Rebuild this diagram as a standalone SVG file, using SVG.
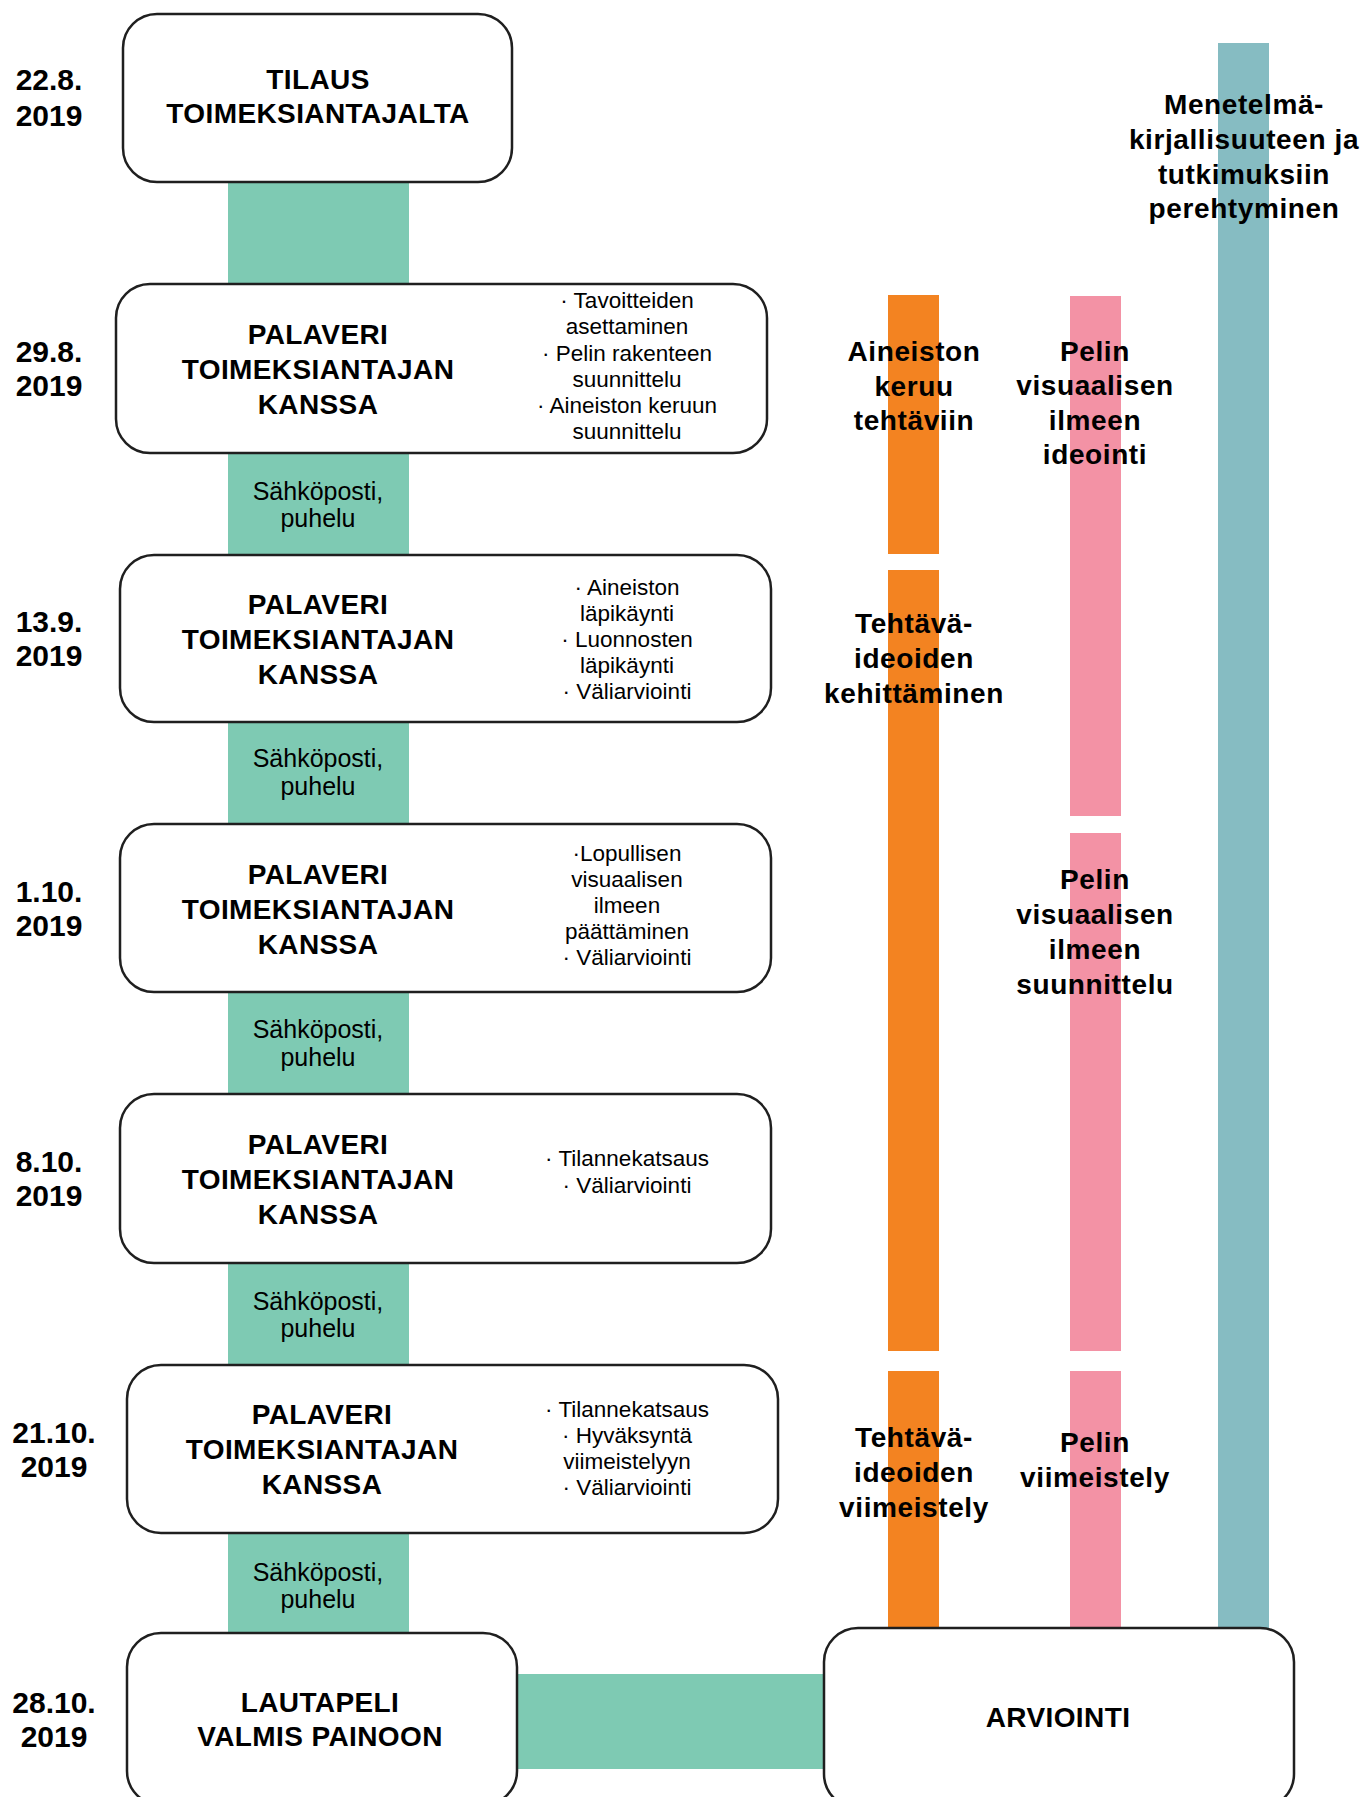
<svg xmlns="http://www.w3.org/2000/svg" width="1366" height="1797" viewBox="0 0 1366 1797">
<style>
.box{fill:#fff;stroke:#1f1f1f;stroke-width:2.5}
.t{font-family:"Liberation Sans",Arial,sans-serif;fill:#000}
.date{font-weight:bold;font-size:30px;text-anchor:middle}
.title{font-weight:bold;font-size:28px;text-anchor:middle;letter-spacing:0.4px}
.bul{font-size:22.5px;text-anchor:middle}
.conn{font-size:25px;text-anchor:middle}
.lab{font-weight:bold;font-size:28px;text-anchor:middle;letter-spacing:0.6px}
.teal{fill:#7ecab3}
.orange{fill:#f38321}
.pink{fill:#f392a5}
.blue{fill:#86bcc2}
</style>
<rect width="1366" height="1797" fill="#fff"/>

<g id="connectors">
  <rect class="teal" x="228" y="182" width="181" height="1452"/>
  <rect class="teal" x="517" y="1674" width="307" height="95"/>
  <g class="t conn">
    <text x="318" y="500">Sähköposti,</text><text x="318" y="527">puhelu</text>
    <text x="318" y="767">Sähköposti,</text><text x="318" y="795">puhelu</text>
    <text x="318" y="1038">Sähköposti,</text><text x="318" y="1066">puhelu</text>
    <text x="318" y="1310">Sähköposti,</text><text x="318" y="1337">puhelu</text>
    <text x="318" y="1581">Sähköposti,</text><text x="318" y="1608">puhelu</text>
  </g>
</g>

<g id="tracks">
  <rect class="orange" x="888" y="295" width="51" height="259"/>
  <rect class="orange" x="888" y="570" width="51" height="781"/>
  <rect class="orange" x="888" y="1371" width="51" height="260"/>
  <rect class="pink" x="1070" y="296" width="51" height="520"/>
  <rect class="pink" x="1070" y="833" width="51" height="518"/>
  <rect class="pink" x="1070" y="1371" width="51" height="260"/>
  <rect class="blue" x="1218" y="43" width="51" height="1588"/>
</g>

<g id="dates" class="t date">
  <text x="49" y="90">22.8.</text><text x="49" y="126">2019</text>
  <text x="49" y="362">29.8.</text><text x="49" y="396">2019</text>
  <text x="49" y="632">13.9.</text><text x="49" y="666">2019</text>
  <text x="49" y="902">1.10.</text><text x="49" y="936">2019</text>
  <text x="49" y="1172">8.10.</text><text x="49" y="1206">2019</text>
  <text x="54" y="1443">21.10.</text><text x="54" y="1477">2019</text>
  <text x="54" y="1713">28.10.</text><text x="54" y="1747">2019</text>
</g>

<g id="node-tilaus">
  <rect class="box" x="123" y="14" width="389" height="168" rx="34"/>
  <g class="t title"><text x="318" y="89">TILAUS</text><text x="318" y="123">TOIMEKSIANTAJALTA</text></g>
</g>

<g id="node-palaveri-1">
  <rect class="box" x="116" y="284" width="651" height="169" rx="34"/>
  <g class="t title"><text x="318" y="344">PALAVERI</text><text x="318" y="379">TOIMEKSIANTAJAN</text><text x="318" y="414">KANSSA</text></g>
  <g class="t bul">
    <text x="627" y="308">· Tavoitteiden</text><text x="627" y="334">asettaminen</text>
    <text x="627" y="361">· Pelin rakenteen</text><text x="627" y="387">suunnittelu</text>
    <text x="627" y="413">· Aineiston keruun</text><text x="627" y="439">suunnittelu</text>
  </g>
</g>

<g id="node-palaveri-2">
  <rect class="box" x="120" y="555" width="651" height="167" rx="34"/>
  <g class="t title"><text x="318" y="614">PALAVERI</text><text x="318" y="649">TOIMEKSIANTAJAN</text><text x="318" y="684">KANSSA</text></g>
  <g class="t bul">
    <text x="627" y="595">· Aineiston</text><text x="627" y="621">läpikäynti</text>
    <text x="627" y="647">· Luonnosten</text><text x="627" y="673">läpikäynti</text>
    <text x="627" y="699">· Väliarviointi</text>
  </g>
</g>

<g id="node-palaveri-3">
  <rect class="box" x="120" y="824" width="651" height="168" rx="34"/>
  <g class="t title"><text x="318" y="884">PALAVERI</text><text x="318" y="919">TOIMEKSIANTAJAN</text><text x="318" y="954">KANSSA</text></g>
  <g class="t bul">
    <text x="627" y="861">·Lopullisen</text><text x="627" y="887">visuaalisen</text>
    <text x="627" y="913">ilmeen</text><text x="627" y="939">päättäminen</text>
    <text x="627" y="965">· Väliarviointi</text>
  </g>
</g>

<g id="node-palaveri-4">
  <rect class="box" x="120" y="1094" width="651" height="169" rx="34"/>
  <g class="t title"><text x="318" y="1154">PALAVERI</text><text x="318" y="1189">TOIMEKSIANTAJAN</text><text x="318" y="1224">KANSSA</text></g>
  <g class="t bul">
    <text x="627" y="1166">· Tilannekatsaus</text><text x="627" y="1193">· Väliarviointi</text>
  </g>
</g>

<g id="node-palaveri-5">
  <rect class="box" x="127" y="1365" width="651" height="168" rx="34"/>
  <g class="t title"><text x="322" y="1424">PALAVERI</text><text x="322" y="1459">TOIMEKSIANTAJAN</text><text x="322" y="1494">KANSSA</text></g>
  <g class="t bul">
    <text x="627" y="1417">· Tilannekatsaus</text><text x="627" y="1443">· Hyväksyntä</text>
    <text x="627" y="1469">viimeistelyyn</text><text x="627" y="1495">· Väliarviointi</text>
  </g>
</g>

<g id="node-lautapeli">
  <rect class="box" x="127" y="1633" width="390" height="172" rx="34"/>
  <g class="t title"><text x="320" y="1712">LAUTAPELI</text><text x="320" y="1746">VALMIS PAINOON</text></g>
</g>

<g id="node-arviointi">
  <rect class="box" x="824" y="1628" width="470" height="180" rx="34"/>
  <text class="t title" x="1058" y="1727">ARVIOINTI</text>
</g>

<g id="track-labels" class="t lab">
  <text x="914" y="361">Aineiston</text><text x="914" y="396">keruu</text><text x="914" y="430">tehtäviin</text>
  <text x="1095" y="361">Pelin</text><text x="1095" y="395">visuaalisen</text><text x="1095" y="430">ilmeen</text><text x="1095" y="464">ideointi</text>
  <text x="1244" y="114">Menetelmä-</text><text x="1244" y="149">kirjallisuuteen ja</text><text x="1244" y="184">tutkimuksiin</text><text x="1244" y="218">perehtyminen</text>
  <text x="914" y="633">Tehtävä-</text><text x="914" y="668">ideoiden</text><text x="914" y="703">kehittäminen</text>
  <text x="1095" y="889">Pelin</text><text x="1095" y="924">visuaalisen</text><text x="1095" y="959">ilmeen</text><text x="1095" y="994">suunnittelu</text>
  <text x="914" y="1447">Tehtävä-</text><text x="914" y="1482">ideoiden</text><text x="914" y="1517">viimeistely</text>
  <text x="1095" y="1452">Pelin</text><text x="1095" y="1487">viimeistely</text>
</g>
</svg>
